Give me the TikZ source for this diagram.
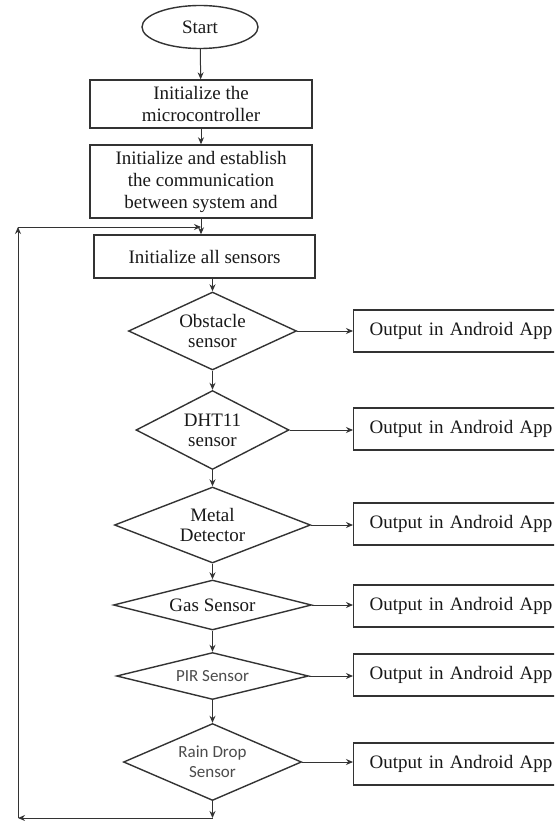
\documentclass[tikz,border=0pt]{standalone}
\usepackage{fontspec}
\setmainfont{Liberation Serif}
\newfontfamily\carlito{Carlito}
\usetikzlibrary{shapes.geometric, arrows.meta}

\begin{document}
\begin{tikzpicture}[
        x=1pt, y=-1pt,
        every node/.style = {
            draw=black!80,
            line width=1.4pt,
            align=center,
            inner sep=0pt,
            text=black!90,
            font=\fontsize{19}{22}\selectfont
        },
        terminal/.style = {ellipse, minimum width=116pt, minimum height=43pt},
        process/.style = {rectangle, minimum width=222pt},
        decision/.style = {diamond, font=\fontsize{19}{20}\selectfont},
        output/.style = {rectangle, anchor=west, minimum height=42pt, text width=185pt, align=left, inner xsep=16pt},
        sansnode/.style = {font=\carlito\fontsize{17}{20}\selectfont, text=black!70},
        arrow/.style = {-{Stealth[length=7pt, width=6pt]}, line width=1pt, draw=black!80}
    ]

    \useasboundingbox (0,0) rectangle (554,821);
    \fill[white] (0,0) rectangle (554,821);
    \clip (0,0) rectangle (554,821);

    % Start and initialization
    \node[terminal] (start) at (200,27) {Start};
    \node[process, minimum height=48pt] (initmcu) at (201,104) {Initialize the\\microcontroller};
    \node[process, minimum height=73pt] (initcomm) at (201,181.5) {Initialize and establish\\the communication\\between system and};
    \node[process, minimum width=221pt, minimum height=43pt] (initsens) at (204.5,256.5) {Initialize all sensors};

    \draw[arrow] (start) -- (initmcu);
    \draw[arrow] (initmcu) -- (initcomm);
    \draw[arrow] (initcomm.south) -- (initcomm.south |- initsens.north);

    % Sensor checks
    \node[decision, aspect=2.15, minimum width=168pt, minimum height=78pt] (obstacle) at (212.5,331) {Obstacle\\sensor};
    \node[decision, aspect=1.94, minimum width=153pt, minimum height=79pt] (dht) at (212.5,430) {DHT11\\sensor};
    \node[decision, aspect=2.58, minimum width=196pt, minimum height=76pt] (metal) at (212.5,525) {Metal\\Detector};
    \node[decision, aspect=4, minimum width=198pt, minimum height=50pt] (gas) at (212.5,605) {Gas Sensor};
    \node[decision, sansnode, aspect=4, minimum width=192pt, minimum height=47pt] (pir) at (212.5,676) {PIR Sensor};
    \node[decision, sansnode, aspect=2.3, minimum width=178pt, minimum height=77pt] (rain) at (212.5,762) {Rain Drop\\Sensor};

    \draw[arrow] (initsens.south -| obstacle.north) -- (obstacle.north);
    \draw[arrow] (obstacle) -- (dht);
    \draw[arrow] (dht) -- (metal);
    \draw[arrow] (metal) -- (gas);
    \draw[arrow] (gas) -- (pir);
    \draw[arrow] (pir) -- (rain);

    % Outputs
    \node[output] (outobstacle) at (353,331) {Output in Android App};
    \node[output] (outdht) at (353,429) {Output in Android App};
    \node[output] (outmetal) at (353,524) {Output in Android App};
    \node[output] (outgas) at (353,606) {Output in Android App};
    \node[output] (outpir) at (353,675) {Output in Android App};
    \node[output] (outrain) at (353,764) {Output in Android App};

    \draw[arrow] (obstacle.east) -- (outobstacle.west |- obstacle.east);
    \draw[arrow] (dht.east) -- (outdht.west |- dht.east);
    \draw[arrow] (metal.east) -- (outmetal.west |- metal.east);
    \draw[arrow] (gas.east) -- (outgas.west |- gas.east);
    \draw[arrow] (pir.east) -- (outpir.west |- pir.east);
    \draw[arrow] (rain.east) -- (outrain.west |- rain.east);

    % Loop back
    \coordinate (loopend) at (212.5,818);
    \coordinate (loopleft) at (18,818);
    \coordinate (looptop) at (18,227);
    \coordinate (loopin) at (201,227);

    \draw[arrow] (rain.south) -- (loopend);
    \draw[arrow] (loopend) -- (loopleft);
    \draw[arrow] (loopleft) -- (looptop);
    \draw[arrow] (looptop) -- (loopin);

\end{tikzpicture}
\end{document}
